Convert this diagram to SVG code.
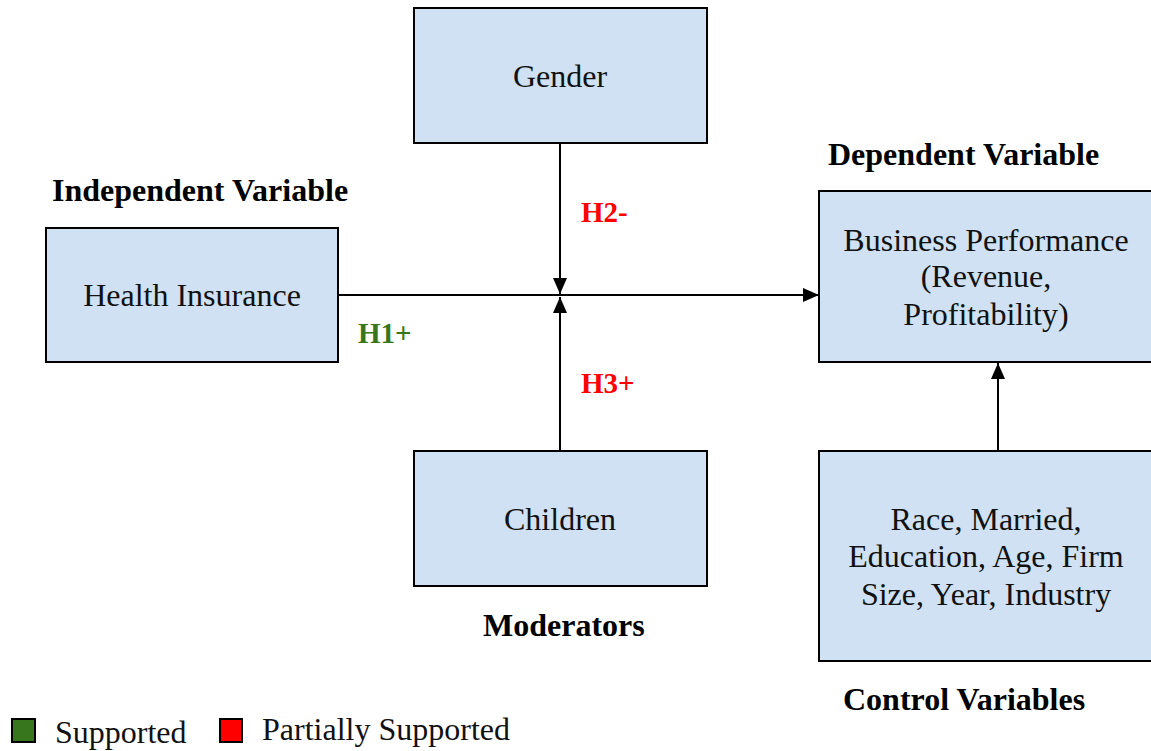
<svg xmlns="http://www.w3.org/2000/svg" width="1151" height="751" viewBox="0 0 1151 751">
<style>
.box{fill:#cfe1f2;stroke:#000;stroke-width:2}
.t{font-family:"Liberation Serif","Times New Roman",serif;font-size:32px;fill:#111;text-anchor:middle}
.h{font-family:"Liberation Serif","Times New Roman",serif;font-size:32px;font-weight:bold;fill:#000}
.red{font-family:"Liberation Serif","Times New Roman",serif;font-size:29px;font-weight:bold;fill:#ff0000}
.green{font-family:"Liberation Serif","Times New Roman",serif;font-size:29px;font-weight:bold;fill:#38761d}
.lg{font-family:"Liberation Serif","Times New Roman",serif;font-size:32px;fill:#111}
.ln{stroke:#000;stroke-width:2;fill:none}
</style>
<defs>
<marker id="arb" markerWidth="16" markerHeight="14" refX="16" refY="7" orient="auto" markerUnits="userSpaceOnUse" viewBox="0 0 16 14">
<path d="M0,0 L16,7 L0,14 Z" fill="#000"/>
</marker>
</defs>
<rect width="1151" height="751" fill="#fff"/>
<g id="connectors">
<line class="ln" x1="338" y1="295" x2="819" y2="295" marker-end="url(#arb)"/>
<line class="ln" x1="560" y1="143" x2="560" y2="294" marker-end="url(#arb)"/>
<line class="ln" x1="560" y1="451" x2="560" y2="297" marker-end="url(#arb)"/>
<line class="ln" x1="998" y1="451" x2="998" y2="363" marker-end="url(#arb)"/>
</g>
<g id="gender"><rect class="box" x="414" y="8" width="293" height="135"/><text class="t" x="560" y="87">Gender</text></g>
<g id="health"><rect class="box" x="46" y="228" width="292" height="134"/><text class="t" x="192" y="306">Health Insurance</text></g>
<g id="business"><rect class="box" x="819" y="191" width="340" height="171"/>
<text class="t" x="986" y="251">Business Performance</text>
<text class="t" x="986" y="287">(Revenue,</text>
<text class="t" x="986" y="325">Profitability)</text></g>
<g id="children"><rect class="box" x="414" y="451" width="293" height="135"/><text class="t" x="560" y="530">Children</text></g>
<g id="controls"><rect class="box" x="819" y="451" width="340" height="210"/>
<text class="t" x="986" y="530">Race, Married,</text>
<text class="t" x="986" y="567">Education, Age, Firm</text>
<text class="t" x="986" y="605">Size, Year, Industry</text></g>
<text class="h" x="52" y="201">Independent Variable</text>
<text class="h" x="828" y="165">Dependent Variable</text>
<text class="h" x="483" y="636">Moderators</text>
<text class="h" x="843" y="710">Control Variables</text>
<text class="red" x="581" y="222">H2-</text>
<text class="green" x="358" y="343">H1+</text>
<text class="red" x="581" y="393">H3+</text>
<g id="legend">
<rect x="12" y="719" width="23" height="23" fill="#38761d" stroke="#000" stroke-width="2"/>
<text class="lg" x="55" y="743">Supported</text>
<rect x="220" y="719" width="22" height="23" fill="#ff0000" stroke="#000" stroke-width="2"/>
<text class="lg" x="262" y="740">Partially Supported</text>
</g>
</svg>
